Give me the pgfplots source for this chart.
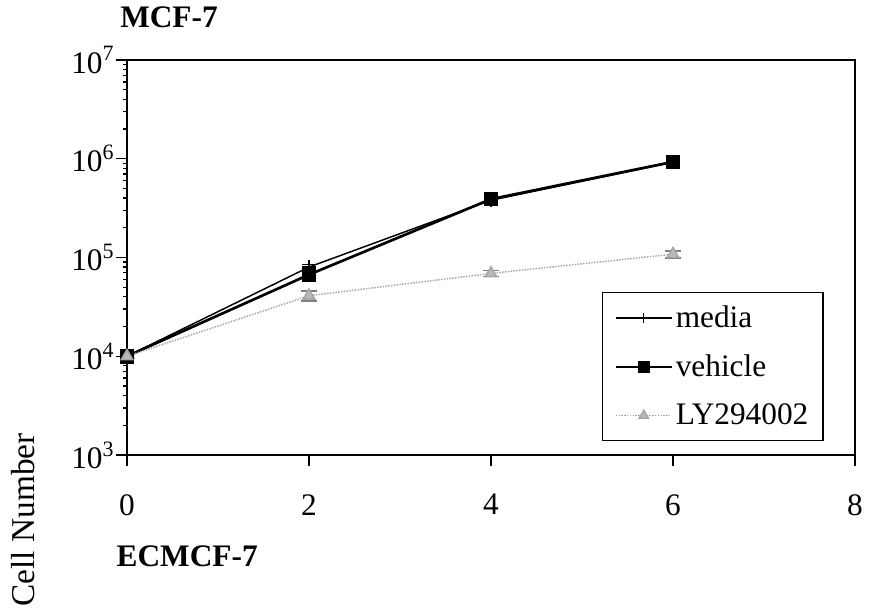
\documentclass[border=0pt]{standalone}
\usepackage{pgfplots}
\pgfplotsset{compat=1.18}
\usepackage{fontspec}
\setmainfont{Liberation Serif}
\newcommand{\bigf}{\fontsize{23.5}{28}\selectfont}
\begin{document}
\begin{tikzpicture}
\useasboundingbox (0pt,0pt) rectangle (651.75pt,459.75pt);
\begin{axis}[
  at={(95.25pt,118.5pt)}, anchor=south west,
  scale only axis, width=546pt, height=296.25pt,
  xmin=0, xmax=8, ymode=log, ymin=1e3, ymax=1e7,
  xtick={0,2,4,6,8},
  ytick={1e3,1e4,1e5,1e6,1e7},
  yticklabels={10\textsuperscript{3},10\textsuperscript{4},10\textsuperscript{5},10\textsuperscript{6},10\textsuperscript{7}},
  /pgf/number format/assume math mode=true,
  tick label style={font=\bigf},
  xticklabel style={yshift=-18pt},
  yticklabel style={xshift=2pt},
  tick align=outside, major tick length=8pt,
  xtick pos=bottom, ytick pos=left,
  minor tick num=0, log ticks with fixed point=false,
  axis line style={line width=1.4pt},
  every tick/.style={black, line width=1pt},
  legend cell align=left,
  legend image code/.code={\draw[mark repeat=2,mark phase=2,#1,mark size=4pt] plot coordinates {(0pt,0pt) (21pt,0pt) (42pt,0pt)};},
  legend style={at={(0.652,0.413)}, anchor=north west, font=\bigf,
    draw=black, line width=1.2pt, row sep=15pt, inner xsep=9pt, inner ysep=8pt,
    nodes={inner xsep=2pt}},
]
\addplot[black, line width=1.1pt, mark=+, mark size=5pt, mark options={line width=1pt},
  error bars/.cd, y dir=both, y explicit, error bar style={line width=1pt}, error mark options={rotate=90, mark size=5pt, line width=1pt}]
  coordinates {(0,1.0e4) +- (0,0.05e4) (2,8.0e4) +- (0,0.5e4) (4,3.8e5) +- (0,0.2e5) (6,9.2e5) +- (0,0.4e5)};
\addlegendentry{media}
\addplot[black, line width=2pt, mark=square*, mark size=5pt, mark options={line width=0.5pt}]
  coordinates {(0,1.0e4) (2,6.7e4) (4,3.9e5) (6,9.3e5)};
\addlegendentry{vehicle}
\addplot[gray!70, line width=1.1pt, densely dotted, mark=triangle*, mark size=5pt, mark options={solid, fill=gray!55, draw=gray!70},
  error bars/.cd, y dir=both, y explicit, error bar style={line width=1.2pt, gray}, error mark options={rotate=90, mark size=6pt, line width=1.2pt, gray}]
  coordinates {(0,1.0e4) +- (0,0.05e4) (2,4.1e4) +- (0,0.45e4) (4,6.9e4) +- (0,0.5e4) (6,1.08e5) +- (0,0.09e5)};
\addlegendentry{LY294002}
\end{axis}
\node[font=\bigf\bfseries] at (126.75pt,447pt) {MCF-7};
\node[font=\bigf\bfseries, anchor=west] at (84pt,42.75pt) {ECMCF-7};
\node[font=\fontsize{25}{30}\selectfont, rotate=90] at (17.25pt,69.75pt) {Cell Number};
\end{tikzpicture}
\end{document}
